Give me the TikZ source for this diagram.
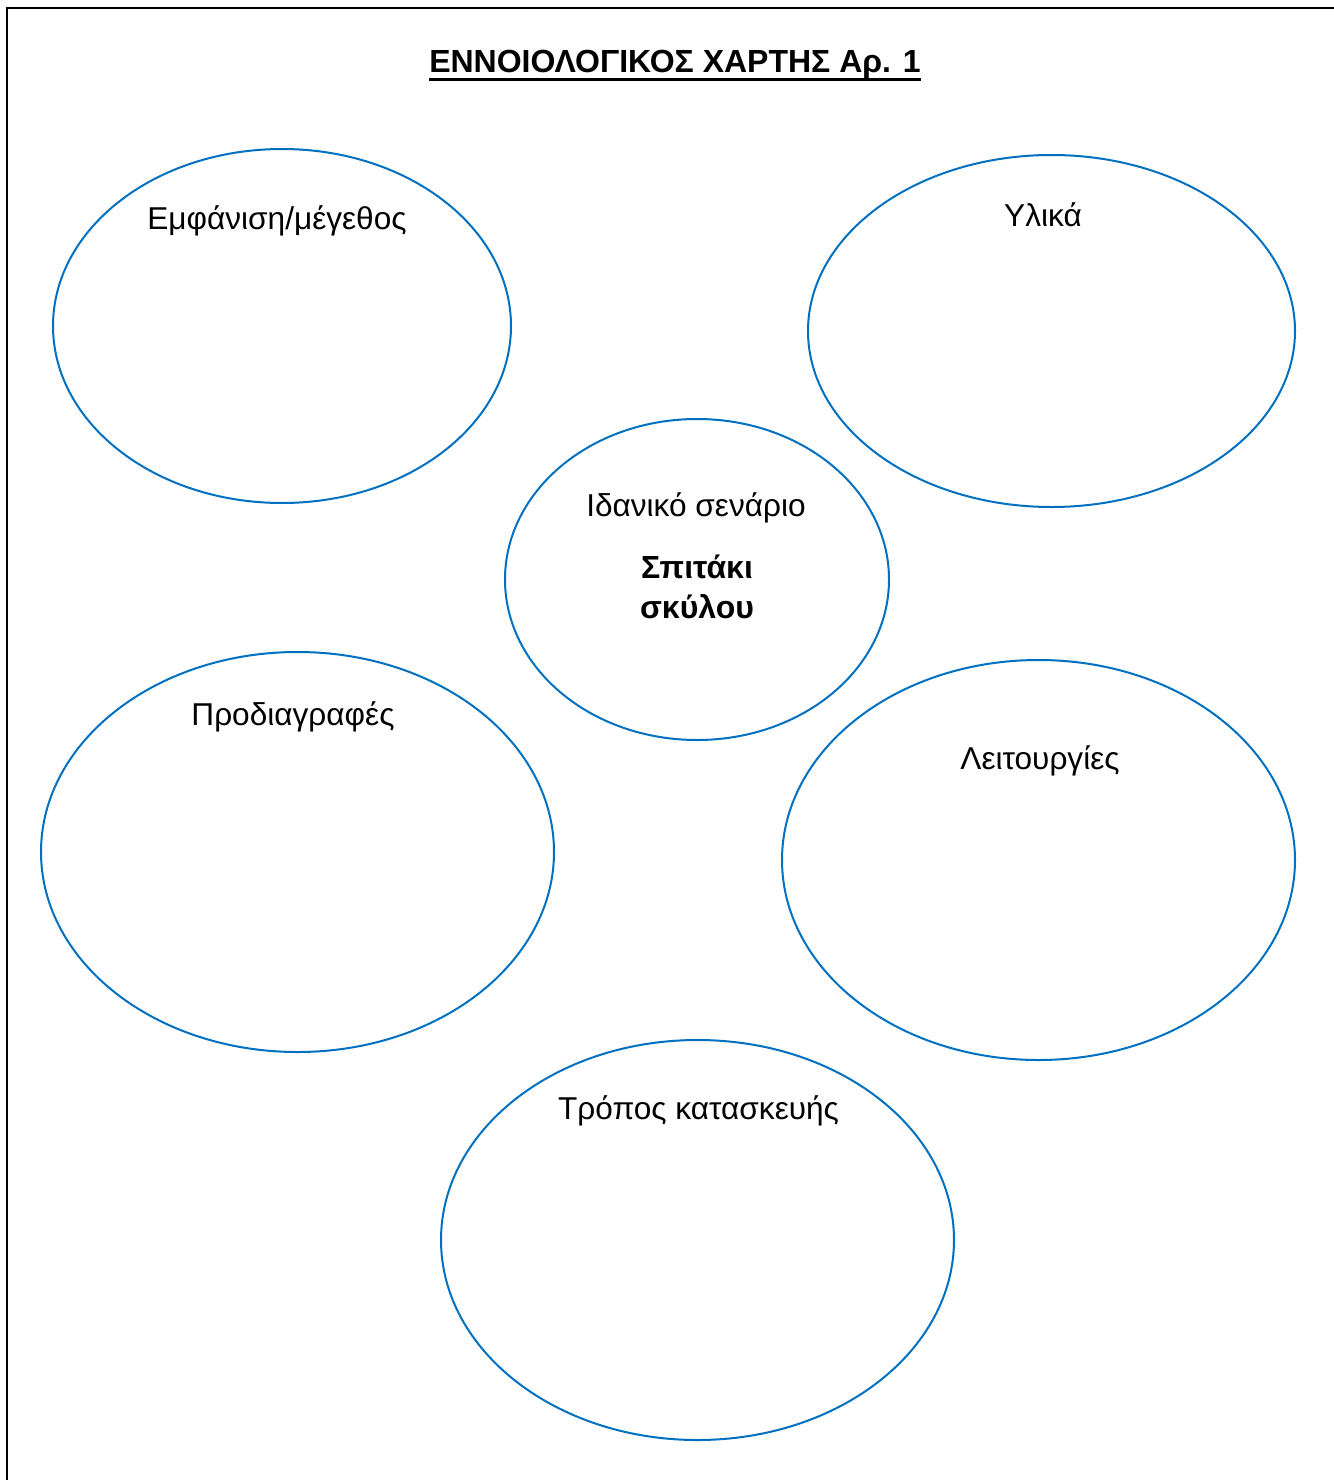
\documentclass[tikz,border=0pt]{standalone}
\usepackage{fontspec}
\setmainfont{Liberation Sans}
\usetikzlibrary{shapes.geometric}
\definecolor{ellblue}{HTML}{0070C0}
\begin{document}
\begin{tikzpicture}[x=1pt,y=-1pt,
  bubble/.style={ellipse, draw=ellblue, line width=2pt, inner sep=0pt},
  lbl/.style={anchor=base, inner sep=0pt, font=\fontsize{31.6}{36}\selectfont},
  boldlbl/.style={anchor=base, inner sep=0pt, font=\fontsize{32}{36}\selectfont\bfseries}]
\useasboundingbox (0,0) rectangle (1333,1480);
\draw[line width=2.5pt] (7,1500) -- (7,8) -- (1350,8);
% ellipses
\node[bubble, minimum width=458pt, minimum height=354pt] (e1) at (282,326) {};
\node[bubble, minimum width=487pt, minimum height=352pt] (e2) at (1051.5,331) {};
\node[bubble, minimum width=384pt, minimum height=321pt] (e3) at (697,579.5) {};
\node[bubble, minimum width=513pt, minimum height=400pt] (e4) at (297.5,852) {};
\node[bubble, minimum width=513pt, minimum height=400pt] (e5) at (1038.5,860) {};
\node[bubble, minimum width=513pt, minimum height=400pt] (e6) at (697.5,1240) {};
% title
\node[anchor=base, inner sep=0pt, font=\fontsize{32}{36}\selectfont\bfseries] (title) at (675,73) {ΕΝΝΟΙΟΛΟΓΙΚΟΣ ΧΑΡΤΗΣ Αρ. 1};
\draw[line width=3pt] ([yshift=-6pt]title.base west) -- ([yshift=-6pt]title.base east);
% labels
\node[lbl] (t1) at (277,229) {Εμφάνιση/μέγεθος};
\node[lbl] (t2) at (1043,226) {Υλικά};
\node[lbl] (t3) at (696,516) {Ιδανικό σενάριο};
\node[boldlbl] (t3a) at (697,578) {Σπιτάκι};
\node[boldlbl] (t3b) at (697,618) {σκύλου};
\node[lbl] (t4) at (293,725) {Προδιαγραφές};
\node[lbl] (t5) at (1040,769) {Λειτουργίες};
\node[lbl] (t6) at (698.5,1119) {Τρόπος κατασκευής};
\end{tikzpicture}
\end{document}
